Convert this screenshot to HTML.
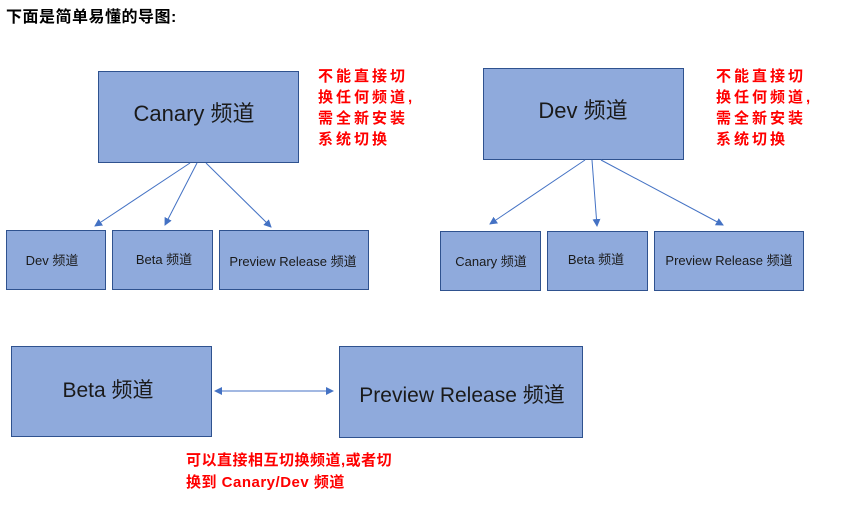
<!DOCTYPE html>
<html><head><meta charset="utf-8"><style>
html,body{margin:0;padding:0;background:#fff;width:842px;height:514px;overflow:hidden}
svg{display:block}
.t{font-family:"Liberation Sans","Noto Sans CJK SC",sans-serif;fill:#1a1a1a}
.r{font-family:"Liberation Sans","Noto Sans CJK SC",sans-serif;fill:#ff0000;font-weight:bold;font-size:15px}
</style></head><body>
<svg width="842" height="514" viewBox="0 0 842 514" xmlns="http://www.w3.org/2000/svg">
<defs><marker id="a" markerWidth="8" markerHeight="8" refX="7" refY="4" orient="auto" markerUnits="userSpaceOnUse"><path d="M0,0 L8,4 L0,8 z" fill="#4472c4"/></marker>
<marker id="b" markerWidth="8" markerHeight="8" refX="1" refY="4" orient="auto" markerUnits="userSpaceOnUse"><path d="M8,0 L0,4 L8,8 z" fill="#4472c4"/></marker></defs>
<text x="6" y="22" font-family="'Liberation Sans','Noto Sans CJK SC',sans-serif" font-weight="bold" font-size="16" letter-spacing="0.5" fill="#000">下面是简单易懂的导图:</text>
<g fill="#8faadc" stroke="#2f528f" stroke-width="1">
<rect x="98.5" y="71.5" width="200" height="91"/>
<rect x="6.5" y="230.5" width="99" height="59"/>
<rect x="112.5" y="230.5" width="100" height="59"/>
<rect x="219.5" y="230.5" width="149" height="59"/>
<rect x="483.5" y="68.5" width="200" height="91"/>
<rect x="440.5" y="231.5" width="100" height="59"/>
<rect x="547.5" y="231.5" width="100" height="59"/>
<rect x="654.5" y="231.5" width="149" height="59"/>
<rect x="11.5" y="346.5" width="200" height="90"/>
<rect x="339.5" y="346.5" width="243" height="91"/>
</g>
<g stroke="#4472c4" stroke-width="1" fill="none">
<line x1="190" y1="163" x2="95" y2="226" marker-end="url(#a)"/>
<line x1="197" y1="163" x2="165" y2="225" marker-end="url(#a)"/>
<line x1="206" y1="163" x2="271" y2="227" marker-end="url(#a)"/>
<line x1="585" y1="160" x2="490" y2="224" marker-end="url(#a)"/>
<line x1="592" y1="160" x2="597" y2="226" marker-end="url(#a)"/>
<line x1="601" y1="160" x2="723" y2="225" marker-end="url(#a)"/>
<line x1="215" y1="391" x2="333" y2="391" marker-start="url(#b)" marker-end="url(#a)"/>
</g>
<g class="t" text-anchor="middle">
<text x="194" y="121" font-size="22">Canary 频道</text>
<text x="583" y="118" font-size="22">Dev 频道</text>
<text x="52" y="265" font-size="13">Dev 频道</text>
<text x="164" y="264" font-size="13">Beta 频道</text>
<text x="293" y="266" font-size="13">Preview Release 频道</text>
<text x="491" y="266" font-size="13">Canary 频道</text>
<text x="596" y="264" font-size="13">Beta 频道</text>
<text x="729" y="265" font-size="13">Preview Release 频道</text>
<text x="108" y="397" font-size="21">Beta 频道</text>
<text x="462" y="402" font-size="21">Preview Release 频道</text>
</g>
<g class="r" letter-spacing="3">
<text x="318" y="81">不能直接切</text><text x="318" y="102">换任何频道,</text><text x="318" y="123">需全新安装</text><text x="318" y="144">系统切换</text>
<text x="716" y="81">不能直接切</text><text x="716" y="102">换任何频道,</text><text x="716" y="123">需全新安装</text><text x="716" y="144">系统切换</text>
</g>
<g class="r" letter-spacing="0.5">
<text x="186" y="465">可以直接相互切换频道,或者切</text>
<text x="186" y="487">换到 Canary/Dev 频道</text>
</g>
</svg>
</body></html>
